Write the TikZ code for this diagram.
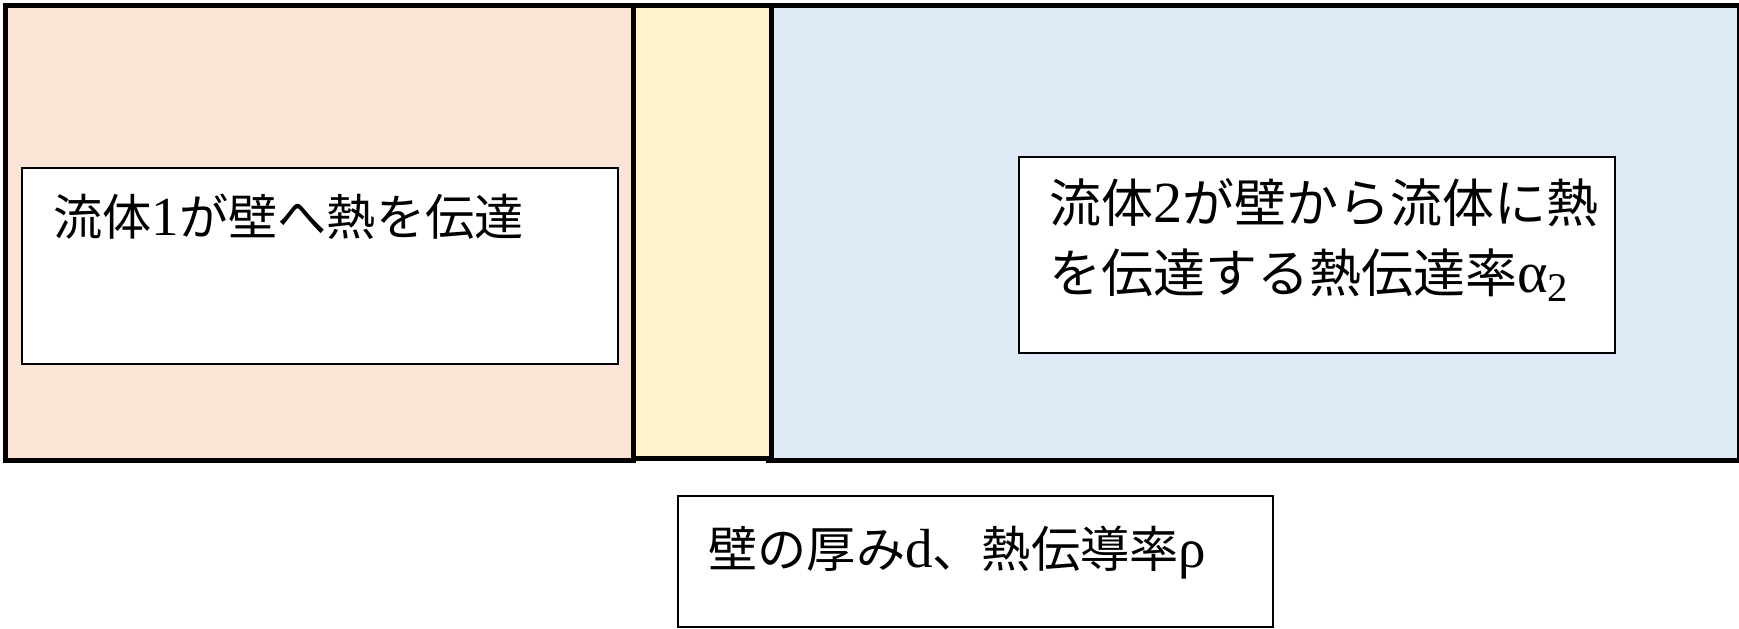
\documentclass[tikz,border=0pt]{standalone}
\usepackage{fontspec}
\setmainfont{Noto Sans CJK JP}
\newfontfamily\ls[Scale=1.12]{Liberation Serif}
\definecolor{peach}{HTML}{FBE5D6}
\definecolor{wallyellow}{HTML}{FFF2CC}
\definecolor{paleblue}{HTML}{DEEBF7}
\tikzset{
  region/.style={draw=black, line width=2.5pt, inner sep=0pt, anchor=north west},
  labelbox/.style={draw=black, fill=white, line width=1pt, inner sep=0pt, anchor=north west},
  labeltext/.style={inner sep=0pt, anchor=base west, font=\fontsize{26pt}{34pt}\selectfont},
  smalltext/.style={labeltext, font=\fontsize{24.6pt}{32pt}\selectfont}
}
\begin{document}
\begin{tikzpicture}[x=0.5pt,y=-0.5pt]
\useasboundingbox (0,0) rectangle (1739,628);
% fluid 1, fluid 2, wall
\node[region, fill=peach, minimum width=314pt, minimum height=227.5pt] (fluid1) at (2.5,2.5) {};
\node[region, fill=paleblue, minimum width=485.5pt, minimum height=227.5pt] (fluid2) at (765.5,2.5) {};
\node[region, fill=wallyellow, minimum width=69pt, minimum height=226.5pt] (wall) at (630.5,2.5) {};
% label boxes
\node[labelbox, minimum width=298pt, minimum height=98pt] (box1) at (21,167) {};
\node[labelbox, minimum width=298pt, minimum height=98pt] (box2) at (1018,156) {};
\node[labelbox, minimum width=297.5pt, minimum height=65.5pt] (box3) at (677,495) {};
% texts
\node[smalltext] (t1) at (53,235) {流体{\ls 1}が壁へ熱を伝達};
\node[labeltext] (t2a) at (1049,222) {流体{\ls 2}が壁から流体に熱};
\node[labeltext] (t2b) at (1049,292) {を伝達する熱伝達率{\ls α\textsubscript{2}}};
\node[smalltext] (t3) at (708,567) {壁の厚み{\ls d}、熱伝導率{\ls ρ}};
\end{tikzpicture}
\end{document}
